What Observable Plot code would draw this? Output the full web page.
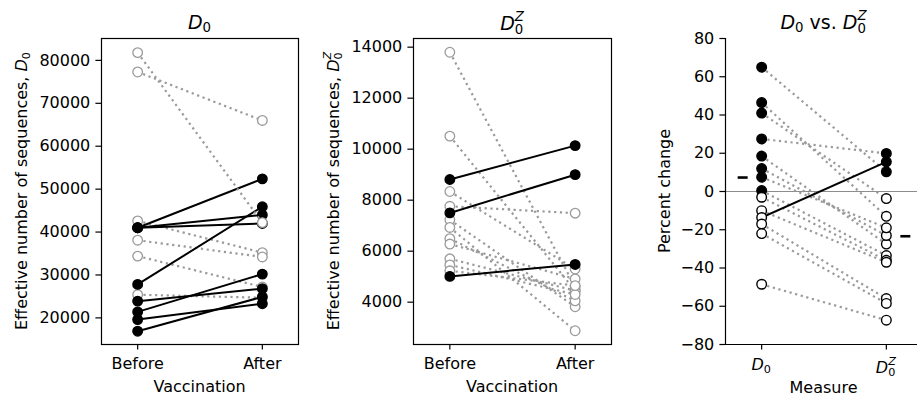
<!DOCTYPE html>
<html><head><meta charset="utf-8">
<script src="https://cdn.jsdelivr.net/npm/d3@7"></script>
<script src="https://cdn.jsdelivr.net/npm/@observablehq/plot@0.6"></script>
<style>
html,body{margin:0;padding:0;background:#fff;}
#chart{position:relative;width:917px;height:402px;overflow:hidden;font-family:"DejaVu Sans",sans-serif;}
#chart svg{position:absolute;top:0;overflow:visible;}
</style></head><body><div id="chart"></div>
<script>
// ---- data ----
const xCategories = ["Before", "After"];
// Panel 1: D0 (effective number of sequences), per subject
const d0Before = [77300, 42600, 38100, 34400, 25400, 27800, 16900, 21400, 41000, 19600, 23900, 41000, 41000, 81800];
const d0After  = [66000, 35200, 34200, 27200, 24700, 45900, 24900, 30200, 52400, 23300, 26800, 44000, 42000, 42200];
const d0Ticks = [20000, 30000, 40000, 50000, 60000, 70000, 80000];
// Panel 2: D0^Z
const d0zBefore = [13800, 10510, 8340, 7760, 7230, 6930, 6490, 6280, 5700, 5460, 5230, 8810, 7500, 5010];
const d0zAfter  = [4600, 4450, 5300, 7490, 3820, 2880, 4050, 4910, 4450, 4300, 4650, 10140, 9000, 5480];
const d0zTicks = [4000, 6000, 8000, 10000, 12000, 14000];
// Panel 3: percent change per subject
const pctD0  = [65, 46.5, 41, 27.5, 18.5, 12, 7.5, 0.5, -3, -10, -13.6, -17, -22, -48.5];
const pctD0Z = [10.3, -13, -3.7, 19.9, -27.5, -23, -19, -33.5, -36, -37, 15.5, -56, -58.5, -67.3];
const pctMeans = [7.3, -23.4];
const pctTicks = [-80, -60, -40, -20, 0, 20, 40, 60, 80];

const GRAY = "#9a9a9a";
const FONT = "DejaVu Sans";
const chart = document.getElementById("chart");
const fmt = d3.format("d");

function basePlot(marks, {width, ml, mr, yDomain}) {
  return Plot.plot({
    width, height: 402, marginLeft: ml, marginRight: mr, marginTop: 38, marginBottom: 58,
    x: {domain: [-0.29, 1.29]}, y: {domain: yDomain},
    style: {fontFamily: FONT, fontSize: "16px", background: "transparent", color: "black"},
    marks
  });
}

function pairedPanel(before, after, yDomain, yTicks, width, ml, mr) {
  const marks = [];
  before.forEach((b, i) => {
    const a = after[i];
    const up = a > b;
    const rows = [{x: 0, y: b}, {x: 1, y: a}];
    marks.push(Plot.line(rows, {x: "x", y: "y", stroke: up ? "black" : GRAY, strokeWidth: up ? 2 : 2.2,
      strokeDasharray: up ? "none" : "2.2,3.6", strokeLinecap: "butt"}));
    marks.push(Plot.dot(rows, {x: "x", y: "y", r: 4.8, fill: up ? "black" : "white",
      stroke: up ? "black" : GRAY, strokeWidth: 1.3}));
  });
  marks.push(Plot.frame({stroke: "black", strokeWidth: 1.2}));
  marks.push(Plot.axisY({ticks: yTicks, tickSize: 5.6, tickPadding: 5.6, tickFormat: fmt, label: null, strokeWidth: 1.2}));
  marks.push(Plot.axisX({ticks: [0, 1], tickSize: 5.6, tickPadding: 7.5, tickFormat: i => xCategories[i], label: null, strokeWidth: 1.2}));
  return basePlot(marks, {width, ml, mr, yDomain});
}

// math text helper: parts {t, it, s (size factor), dx, dy (in units of base font)}
function mathText(parent, F, parts) {
  parts.forEach(p => {
    const ts = parent.append("tspan").text(p.t);
    if (p.it) ts.attr("font-style", "italic");
    if (p.s) ts.attr("font-size", (F * p.s) + "px");
    if (p.dx) ts.attr("dx", (F * p.dx));
    if (p.dy) ts.attr("dy", (F * p.dy));
  });
}
const D0 = [{t: "D", it: 1}, {t: "0", s: 0.7, dy: 0.2}];
const D0Z = [{t: "D", it: 1}, {t: "0", s: 0.7, dy: 0.22}, {t: "Z", it: 1, s: 0.7, dx: -0.445, dy: -0.66}];

function addText(svg, x, y, F, parts, rotate) {
  const t = d3.select(svg).append("text")
    .attr("font-family", FONT).attr("font-size", F + "px").attr("fill", "black")
    .attr("text-anchor", "middle")
    .attr("transform", `translate(${x},${y})` + (rotate ? " rotate(-90)" : ""));
  mathText(t, F, parts);
  return t;
}

function place(svg, left) { svg.style.left = left + "px"; chart.appendChild(svg); }

// ---- Panel 1 ----
const p1 = pairedPanel(d0Before, d0After, [13800, 85100], d0Ticks, 310, 101, 12);
place(p1, 0);
{
  const xr = p1.scale("x").range, cx = (xr[0] + xr[1]) / 2;
  addText(p1, cx, 28.5, 19, D0);
  addText(p1, cx, 391.5, 16, [{t: "Vaccination"}]);
  addText(p1, 27, 191, 16, [{t: "Effective number of sequences, "}, ...D0], true);
}

// ---- Panel 2 ----
const p2 = pairedPanel(d0zBefore, d0zAfter, [2340, 14340], d0zTicks, 310, 103, 9);
place(p2, 310);
{
  const xr = p2.scale("x").range, cx = (xr[0] + xr[1]) / 2;
  addText(p2, cx, 29.5, 19, D0Z);
  addText(p2, cx, 391.5, 16, [{t: "Vaccination"}]);
  addText(p2, 28.5, 191, 16, [{t: "Effective number of sequences, "}, ...D0Z], true);
}

// ---- Panel 3 ----
{
  const marks = [Plot.ruleY([0], {stroke: "#808080", strokeWidth: 0.9})];
  pctD0.forEach((a, i) => {
    const b = pctD0Z[i];
    const up = b > a;
    const rows = [{x: 0, y: a}, {x: 1, y: b}];
    marks.push(Plot.line(rows, {x: "x", y: "y", stroke: up ? "black" : GRAY, strokeWidth: up ? 2 : 2.2,
      strokeDasharray: up ? "none" : "2.2,3.6", strokeLinecap: "butt"}));
  });
  const pts = [];
  pctD0.forEach((a, i) => { pts.push({x: 0, y: a}); pts.push({x: 1, y: pctD0Z[i]}); });
  marks.push(Plot.dot(pts, {x: "x", y: "y", r: 4.8, fill: d => d.y > 0 ? "black" : "white", stroke: "black", strokeWidth: 1.4}));
  const dash = {draw(ctx) { ctx.moveTo(-5, 0); ctx.lineTo(5, 0); }};
  marks.push(Plot.dot([{x: 0, y: pctMeans[0]}], {x: "x", y: "y", symbol: dash, stroke: "black", strokeWidth: 2.6, dx: -19}));
  marks.push(Plot.dot([{x: 1, y: pctMeans[1]}], {x: "x", y: "y", symbol: dash, stroke: "black", strokeWidth: 2.6, dx: 19}));
  marks.push(Plot.ruleX([-0.29], {stroke: "black", strokeWidth: 1.2}));
  marks.push(Plot.ruleY([-80], {stroke: "black", strokeWidth: 1.2}));
  marks.push(Plot.axisY({ticks: pctTicks, tickSize: 5.6, tickPadding: 5.6, tickFormat: fmt, label: null, strokeWidth: 1.2}));
  marks.push(Plot.axisX({ticks: [0, 1], tickSize: 5.6, tickFormat: () => "", label: null, strokeWidth: 1.2}));
  const p3 = basePlot(marks, {width: 310, ml: 105, mr: 8, yDomain: [-80, 80]});
  place(p3, 620);
  const xs = p3.scale("x"), xr = xs.range, cx = (xr[0] + xr[1]) / 2;
  addText(p3, cx, 28.5, 19, [...D0, {t: " vs. ", dy: -0.2}, ...D0Z]);
  addText(p3, xs.apply(0), 370, 16, D0);
  addText(p3, xs.apply(1), 372.5, 16, D0Z);
  addText(p3, cx, 393, 16, [{t: "Measure"}]);
  addText(p3, 50, 191, 16, [{t: "Percent change"}], true);
}
</script></body></html>
